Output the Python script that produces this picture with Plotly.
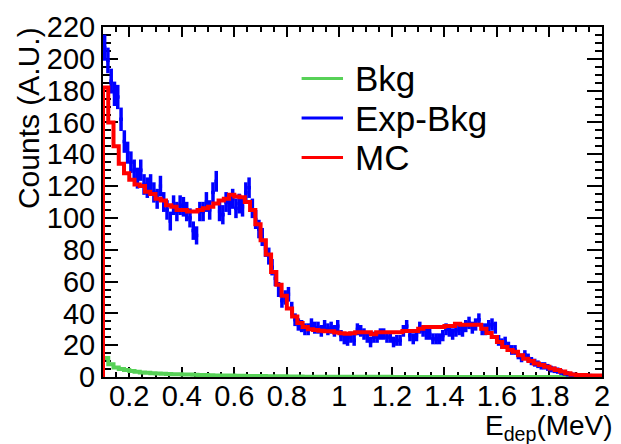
import math
import plotly.graph_objects as go

# ---------------- data ----------------
x_range = [0.1, 2.0]
y_range = [0, 220]
x_tickvals = [0.2, 0.4, 0.6, 0.8, 1.0, 1.2, 1.4, 1.6, 1.8, 2.0]
x_ticktext = ["0.2", "0.4", "0.6", "0.8", "1", "1.2", "1.4", "1.6", "1.8", "2"]
y_tickvals = [0, 20, 40, 60, 80, 100, 120, 140, 160, 180, 200, 220]
y_ticktext = [str(v) for v in y_tickvals]

series_names = ["Bkg", "Exp-Bkg", "MC"]

# Exp-Bkg (data histogram, 0.0125 MeV bins starting at 0.1 MeV)
exp_start = 0.1
exp_width = 0.0125
exp_values = [
    207, 199, 186, 178, 176, 162, 148, 141, 135, 130,
    125, 130, 121, 119, 121, 116, 112, 120, 110, 105,
    98, 108, 104, 108, 107, 104, 100, 92, 89, 104,
    104, 110, 105, 116, 123, 104, 102, 110, 108, 112,
    106, 109, 107, 116, 119, 106, 99, 93, 88, 81,
    76, 69, 62, 55, 48, 50, 52, 43, 36, 33,
    32, 30, 30, 33, 31, 31, 29, 32, 30, 31,
    29, 32, 26, 24, 23, 25, 23, 30, 29, 27,
    25, 22, 25, 25, 27, 27, 25, 25, 22, 23,
    23, 29, 32, 26, 24, 26, 31, 29, 27, 27,
    24, 24, 24, 26, 30, 29, 27, 29, 30, 29,
    32, 34, 31, 33, 36, 30, 30, 32, 33, 31,
    23, 21, 22, 19, 17, 17, 14, 12, 14, 12,
    10, 9, 8, 7, 7, 6, 5, 4.5, 4, 3.2,
    2.6, 2, 1.5, 1.2, 1.0, 0.9, 0.8, 0.7, 0.6, 0.5,
    0.5, 0.4,
]

# MC and Bkg (0.02 MeV bins starting at 0.1 MeV)
mc_start = 0.1
mc_width = 0.02
mc_values = [
    182, 160, 145, 134, 128, 124, 121, 120, 116.5, 115,
    112, 111, 108, 107, 105, 105, 104, 104, 105, 106,
    107, 109, 111, 112, 114.6, 113.5, 113, 110, 105, 96,
    86, 77, 66, 58, 51, 43, 38, 34, 31.5, 30,
    29.5, 29, 28.7, 28.7, 28, 27.5, 27.2, 27.5, 28.2, 28.2,
    28.2, 26.8, 28.2, 28.2, 28.2, 28.2, 28.2, 28.9, 28.9, 28.9,
    30.3, 31.4, 31.4, 31.4, 31.4, 32, 32, 33.5, 32.8, 32.8,
    32.8, 32.8, 30.3, 27.6, 25.1, 22, 18.9, 17, 15.8, 13.7,
    11.5, 10, 8.5, 7.5, 6.4, 5.4, 4.4, 3.4, 2.3, 1.5,
    1.2, 1.2, 1.0, 1.0, 1.0,
]
bkg_values = [
    12, 8, 6, 5, 4.4, 3.8, 3.3, 2.9, 2.6, 2.4,
    2.2, 2, 1.9, 1.8, 1.7, 1.6, 1.5, 1.4, 1.3, 1.2,
    1.1, 1.0, 1.0, 0.9, 0.9, 0.8, 0.8, 0.7, 0.7, 0.6,
    0.6, 0.5, 0.5, 0.4, 0.4, 0.3, 0.3, 0.3, 0.2, 0.2,
    0.2, 0.2, 0.1, 0.1, 0.1, 0.1, 0.1, 0.1, 0.1, 0.1,
    0.1, 0.1, 0.1, 0.1, 0.1, 0, 0, 0, 0, 0,
    0, 0, 0, 0, 0, 0, 0, 0, 0, 0,
    0, 0, 0, 0, 0, 0, 0, 0, 0, 0,
    0, 0, 0, 0, 0, 0, 0, 0, 0, 0,
    0, 0, 0, 0, 0,
]

colors = {"Bkg": "#57d157", "Exp-Bkg": "#0000ff", "MC": "#ff0000"}
FONT = "Liberation Sans, Arial, Helvetica, sans-serif"


def step_xy(start, width, vals):
    xs = [start]
    ys = [0]
    for i, v in enumerate(vals):
        xs.append(start + i * width)
        ys.append(v)
    xs.append(start + len(vals) * width)
    ys.append(vals[-1])
    return xs, ys


fig = go.Figure()

bx, by = step_xy(mc_start, mc_width, bkg_values)
fig.add_trace(go.Scatter(x=bx, y=by, mode="lines", line_shape="hv",
                         line=dict(color=colors["Bkg"], width=4),
                         name="Bkg", hoverinfo="skip"))

exp_x = [exp_start + (i + 0.5) * exp_width for i in range(len(exp_values))]
exp_err = [0.5 * math.sqrt(v) + 1.0 for v in exp_values]
fig.add_trace(go.Scatter(
    x=exp_x, y=exp_values, mode="markers", name="Exp-Bkg",
    marker=dict(color=colors["Exp-Bkg"], size=3, symbol="square"),
    error_x=dict(type="constant", value=exp_width / 2, width=0,
                 thickness=3.5, color=colors["Exp-Bkg"]),
    error_y=dict(type="data", array=exp_err, width=0,
                 thickness=3.5, color=colors["Exp-Bkg"]),
))

mx, my = step_xy(mc_start, mc_width, mc_values)
fig.add_trace(go.Scatter(x=mx, y=my, mode="lines", line_shape="hv",
                         line=dict(color=colors["MC"], width=4),
                         name="MC", hoverinfo="skip"))

axis_common = dict(
    showline=True, linecolor="black", linewidth=2, mirror="ticks",
    ticks="inside", tickcolor="black", tickwidth=1.5,
    showgrid=False, zeroline=False, layer="below traces",
    tickfont=dict(family=FONT, size=29, color="black"),
)

fig.update_xaxes(range=x_range, tickmode="array", tickvals=x_tickvals,
                 ticktext=x_ticktext, ticklen=10, ticklabelstandoff=-8,
                 minor=dict(ticks="inside", ticklen=5, tickmode="linear",
                            tick0=0, dtick=0.05, tickcolor="black",
                            tickwidth=1.5, showgrid=False),
                 **axis_common)
fig.update_yaxes(range=y_range, tickmode="array", tickvals=y_tickvals,
                 ticktext=y_ticktext, ticklen=15,
                 minor=dict(ticks="inside", ticklen=7.5, tickmode="linear",
                            tick0=0, dtick=5, tickcolor="black",
                            tickwidth=1.5, showgrid=False),
                 **axis_common)

annotations = [
    dict(text="Counts (A.U.)", textangle=-90, xref="paper", yref="paper",
         x=-0.148, y=1.006, xanchor="center", yanchor="top", showarrow=False,
         font=dict(family=FONT, size=30, color="black")),
    dict(text="E<sub>dep</sub>(MeV)", xref="paper", yref="paper",
         x=1.026, y=-0.088, xanchor="right", yanchor="top", showarrow=False,
         font=dict(family=FONT, size=28, color="black")),
]
shapes = []
leg_rows_y = [0.853, 0.740, 0.627]
for name, yy in zip(series_names, leg_rows_y):
    shapes.append(dict(type="line", xref="paper", yref="paper",
                       x0=0.398, x1=0.481, y0=yy, y1=yy,
                       line=dict(color=colors[name], width=3)))
    annotations.append(dict(text=name, xref="paper", yref="paper",
                            x=0.501, y=yy, xanchor="left", yanchor="middle",
                            showarrow=False,
                            font=dict(family=FONT, size=35, color="black")))

fig.update_layout(
    width=621, height=444,
    margin=dict(l=103, r=11, t=24, b=67),
    plot_bgcolor="white", paper_bgcolor="white",
    showlegend=False,
    annotations=annotations, shapes=shapes,
    font=dict(family=FONT, color="black"),
)

fig.write_html("out.html")
